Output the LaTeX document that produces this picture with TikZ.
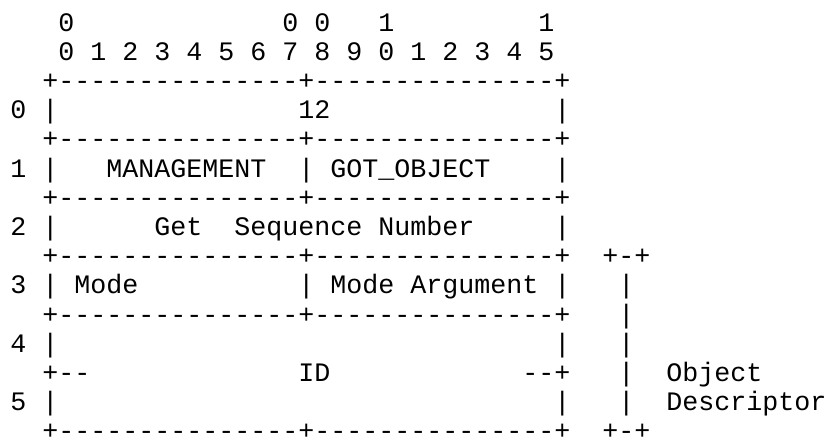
\documentclass[tikz,border=0pt]{standalone}
\usepackage{fontspec}
\newfontfamily\asciifont{Liberation Mono}[Ligatures=TeXOff]
\tikzset{
  ascii/.style={font=\fontsize{20pt}{22pt}\asciifont, inner sep=0pt,
    text depth=0pt, anchor=base west},
}
\newcommand\boxrule{+---------------+---------------+}
\begin{document}
\begin{tikzpicture}[x=12pt, y=-21.9pt]
  \useasboundingbox (-7.5pt,23.25pt) rectangle (613.5pt,-306.75pt);
  \foreach \col/\lab [count=\k] in {3/0, 17/0, 19/0, 23/1, 33/1}
    \node[ascii] (top\k) at (\col,0) {\lab};
  \foreach \lab [count=\k from 0] in {0,1,2,3,4,5,6,7,8,9,0,1,2,3,4,5}
    \node[ascii] (bit\k) at (3+2*\k,1) {\lab};
  \foreach \row in {2,4,6,8,10,14}
    \node[ascii] (rule\row) at (2,\row) {\boxrule};
  \foreach \n in {0,...,5}
    \node[ascii] (lab\n) at (0,3+2*\n) {\n};
  \foreach \row in {3,5,...,13} {
    \node[ascii] (lft\row) at (2,\row) {|};
    \node[ascii] (rgt\row) at (34,\row) {|};
  }
  \foreach \row in {5,9}
    \node[ascii] (mid\row) at (18,\row) {|};
  \node[ascii] (len) at (18,3) {12};
  \node[ascii] (type) at (6,5) {MANAGEMENT};
  \node[ascii] (subtype) at (20,5) {GOT\_OBJECT};
  \node[ascii] (seqa) at (9,7) {Get};
  \node[ascii] (seqb) at (14,7) {Sequence Number};
  \node[ascii] (mode) at (4,9) {Mode};
  \node[ascii] (arg) at (20,9) {Mode Argument};
  \node[ascii] (idl) at (2,12) {+--};
  \node[ascii] (id) at (18,12) {ID};
  \node[ascii] (idr) at (32,12) {--+};
  % bracket for the descriptor
  \node[ascii] (brtop) at (37,8) {+-+};
  \node[ascii] (brbot) at (37,14) {+-+};
  \foreach \row in {9,...,13}
    \node[ascii] (br\row) at (38,\row) {|};
  \node[ascii] (desca) at (41,12) {Object};
  \node[ascii] (descb) at (41,13) {Descriptor};
\end{tikzpicture}
\end{document}
